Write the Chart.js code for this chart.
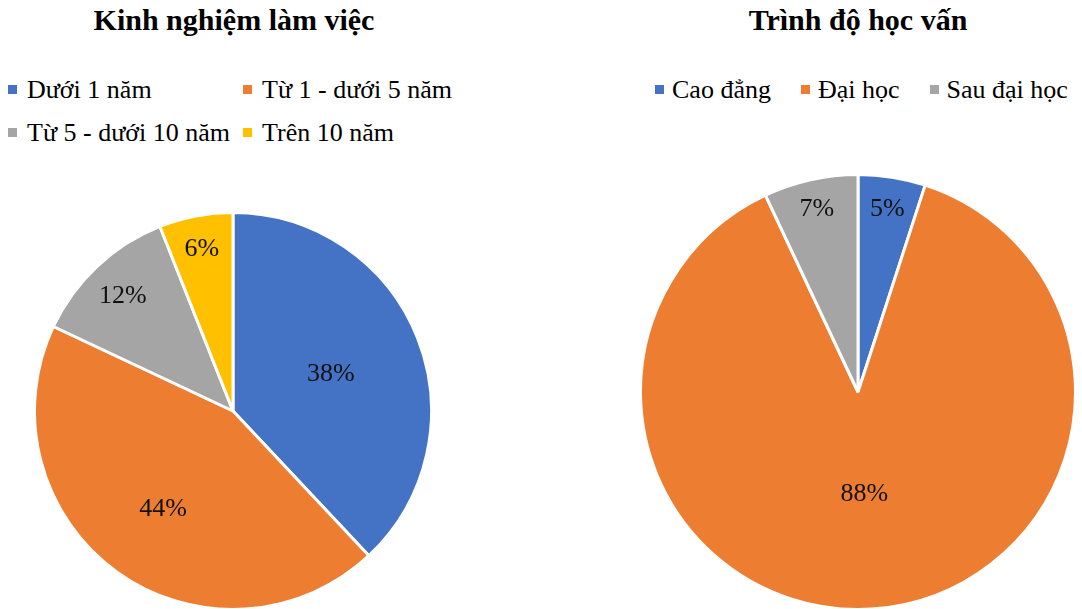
<!DOCTYPE html>
<html>
<head>
<meta charset="utf-8">
<script src="https://cdn.jsdelivr.net/npm/chart.js@4.4.0/dist/chart.umd.min.js"></script>
<style>
  body { margin: 0; width: 1082px; height: 609px; overflow: hidden; background: #fff; color: #000; position: relative; }
  .title, .legend { font-family: 'Liberation Serif', 'Times New Roman', serif; }
  .title { position: absolute; top: 5px; font-weight: bold; font-size: 30px; line-height: 30px; text-align: center; }
  .legend { position: absolute; font-size: 26px; line-height: 43px; }
  .legend .item { position: relative; padding-left: 19px; white-space: nowrap; }
  .legend .box { position: absolute; left: 0; top: 17px; width: 9px; height: 9px; }
  #legExp { left: 8px; top: 68px; display: grid; grid-template-columns: 235px auto; }
  #legEdu { left: 655px; top: 68px; display: flex; gap: 30px; }
  #legEdu .item { padding-left: 17px; }
  .pie { position: absolute; }
</style>
</head>
<body>
<div class="title" style="left:0;width:468px">Kinh nghiệm làm việc</div>
<div class="title" style="left:634px;width:448px">Trình độ học vấn</div>
<div class="legend" id="legExp"></div>
<div class="legend" id="legEdu"></div>
<canvas class="pie" id="pieExp" width="400" height="400" style="left:33px;top:211px"></canvas>
<canvas class="pie" id="pieEdu" width="438" height="438" style="left:639px;top:173px"></canvas>
<script>
// Dữ liệu
const expLabels = ['Dưới 1 năm', 'Từ 1 - dưới 5 năm', 'Từ 5 - dưới 10 năm', 'Trên 10 năm'];
const expValues = [38, 44, 12, 6];
const eduLabels = ['Cao đẳng', 'Đại học', 'Sau đại học'];
const eduValues = [5, 88, 7];

const colors = ['#4472C4', '#ED7D31', '#A5A5A5', '#FFC000'];
const labelFont = '26px "Liberation Serif", "Times New Roman", serif';

// ve nhan phan tram len tung lat
const pctLabels = {
    id: 'pctLabels',
    afterDatasetsDraw(chart, args, opts) {
        const ctx = chart.ctx;
        const meta = chart.getDatasetMeta(0);
        const data = chart.data.datasets[0].data;
        ctx.save();
        ctx.font = labelFont;
        ctx.fillStyle = '#111';
        ctx.textAlign = 'center';
        ctx.textBaseline = 'middle';
        meta.data.forEach((arc, i) => {
            const p = arc.getProps(['x', 'y', 'startAngle', 'endAngle', 'outerRadius'], true);
            const mid = (p.startAngle + p.endAngle) / 2;
            const r = p.outerRadius * opts.radius[i];
            ctx.fillText(data[i] + '%', p.x + Math.cos(mid) * r, p.y + Math.sin(mid) * r + 2);
        });
        ctx.restore();
    }
};

function makePie(id, labels, values, radius) {
    return new Chart(document.getElementById(id), {
        type: 'pie',
        data: {
            labels: labels,
            datasets: [{
                data: values,
                backgroundColor: colors.slice(0, values.length),
                borderColor: '#fff',
                borderWidth: 3
            }]
        },
        options: {
            responsive: false,
            animation: false,
            layout: { padding: 0 },
            plugins: {
                legend: { display: false },
                tooltip: { enabled: false },
                pctLabels: { radius: radius }
            }
        },
        plugins: [pctLabels]
    });
}

function makeLegend(id, labels) {
    const el = document.getElementById(id);
    labels.forEach((lb, i) => {
        const item = document.createElement('div');
        item.className = 'item';
        item.innerHTML = '<span class="box" style="background:' + colors[i] + '"></span>' + lb;
        el.appendChild(item);
    });
}

makeLegend('legExp', expLabels);
makeLegend('legEdu', eduLabels);

// doi font tai xong roi moi ve canvas
Promise.all([document.fonts.load(labelFont, '38%'), document.fonts.ready]).then(() => {
    makePie('pieExp', expLabels, expValues, [0.53, 0.60, 0.81, 0.84]);
    makePie('pieEdu', eduLabels, eduValues, [0.86, 0.46, 0.87]);
});
</script>
</body>
</html>
